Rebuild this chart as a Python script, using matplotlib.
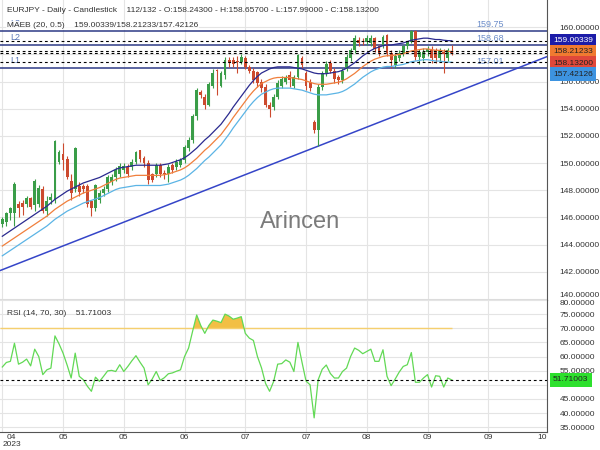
import numpy as np
import matplotlib
matplotlib.use('Agg')
import matplotlib.pyplot as plt

plt.rcParams['font.family'] = ['Liberation Sans', 'DejaVu Sans']

# Velas diarias EURJPY
opens = [145.5, 145.7, 146.3, 146.3, 147.0, 147.1, 147.0, 147.4, 146.9, 147.0,
         148.1, 146.5, 147.3, 147.3, 150.1, 150.7, 150.3, 148.7, 148.1, 148.3,
         148.3, 148.3, 147.2, 146.7, 147.3, 147.8, 148.1, 148.6, 149.0, 149.2,
         149.5, 149.7, 149.7, 150.1, 150.95, 150.4, 150.0, 149.2, 149.2, 149.85,
         149.25, 149.2, 149.85, 149.7, 149.85, 150.2, 151.1, 151.7, 153.5, 155.2,
         154.9, 154.3, 155.7, 156.85, 155.7, 156.5, 157.6, 157.6, 157.5, 157.45,
         157.7, 157.1, 156.8, 156.7, 156.0, 155.6, 154.3, 154.1, 154.9, 155.7,
         156.0, 156.5, 155.7, 156.35, 157.7, 156.6, 156.0, 153.04, 152.4, 155.6,
         156.6, 157.4, 156.8, 156.35, 156.1, 156.96, 157.7, 158.3, 159.05, 159.0,
         158.9, 158.8, 159.2, 158.6, 158.6, 159.4, 158.1, 157.2, 157.7, 158.1,
         158.6, 158.9, 159.7, 157.8, 157.7, 158.2, 158.4, 158.3, 157.7, 158.2,
         157.7, 158.243]
highs = [146.0, 146.4, 146.8, 148.6, 147.2, 147.3, 147.6, 147.5, 148.8, 148.4,
         148.3, 147.6, 147.8, 151.7, 151.0, 151.5, 150.5, 149.2, 151.2, 148.6,
         148.5, 148.5, 147.3, 148.5, 148.0, 148.3, 149.1, 149.2, 149.7, 150.0,
         150.0, 149.9, 150.3, 150.9, 151.0, 150.5, 150.2, 149.3, 150.0, 150.0,
         149.5, 149.9, 150.0, 150.3, 150.4, 151.3, 151.9, 153.6, 155.5, 155.4,
         155.1, 156.0, 156.9, 156.96, 156.8, 157.8, 157.8, 157.8, 157.9, 158.0,
         157.9, 157.2, 157.0, 156.8, 156.2, 155.8, 154.5, 155.1, 156.1, 156.4,
         156.5, 156.8, 156.5, 158.0, 157.9, 156.8, 156.2, 153.2, 155.8, 156.8,
         157.5, 157.6, 157.0, 156.5, 157.0, 158.0, 158.5, 159.4, 159.3, 159.2,
         159.4, 159.45, 159.3, 158.7, 159.4, 159.5, 158.3, 158.0, 158.3, 158.7,
         159.0, 159.8, 159.8, 158.4, 158.5, 158.6, 158.6, 158.5, 158.5, 158.4,
         158.5, 158.657]
lows = [145.3, 145.4, 145.8, 145.4, 146.0, 146.2, 146.8, 146.6, 146.5, 146.8,
        146.3, 146.1, 147.0, 147.1, 149.9, 149.5, 148.8, 147.3, 147.9, 147.6,
        147.8, 146.8, 146.1, 146.5, 147.1, 147.6, 147.9, 148.4, 148.7, 149.0,
        149.3, 149.0, 149.5, 149.9, 150.1, 149.7, 148.5, 148.6, 149.0, 149.0,
        148.8, 148.6, 149.3, 149.5, 149.7, 150.0, 150.9, 151.5, 153.2, 154.8,
        154.0, 154.2, 155.5, 155.0, 155.6, 156.2, 157.1, 157.1, 156.6, 157.3,
        156.9, 156.6, 155.9, 155.6, 155.2, 154.1, 153.4, 153.9, 154.7, 155.5,
        155.8, 155.6, 155.5, 156.2, 157.0, 155.4, 155.3, 152.2, 151.25, 155.4,
        156.4, 156.6, 155.9, 155.8, 155.9, 156.8, 157.5, 158.1, 158.6, 158.7,
        158.7, 158.6, 158.2, 157.9, 158.5, 157.9, 157.0, 157.0, 157.5, 157.9,
        158.4, 158.8, 157.6, 157.3, 157.5, 157.9, 157.4, 157.4, 157.5, 156.6,
        157.5, 157.99]
closes = [145.9, 146.3, 146.7, 148.45, 146.7, 146.8, 147.4, 146.8, 148.7, 148.2,
          146.5, 147.2, 147.5, 151.6, 150.8, 150.2, 149.0, 147.8, 151.1, 147.9,
          148.1, 147.0, 146.7, 148.4, 147.8, 148.1, 149.0, 149.0, 149.5, 149.8,
          149.8, 149.2, 150.1, 150.8, 150.3, 150.0, 148.75, 148.75, 149.85, 149.2,
          149.2, 149.7, 149.5, 150.1, 150.2, 151.15, 151.7, 153.45, 155.4, 155.0,
          154.3, 155.8, 156.6, 156.75, 156.6, 157.6, 157.35, 157.3, 157.45, 157.8,
          157.1, 156.8, 156.1, 155.9, 155.5, 154.3, 154.0, 154.9, 155.9, 156.2,
          156.35, 156.1, 156.35, 157.95, 157.2, 155.7, 155.5, 152.4, 155.6, 156.6,
          157.3, 156.8, 156.2, 156.1, 156.8, 157.8, 158.3, 159.2, 158.8, 158.95,
          159.2, 159.2, 158.4, 158.1, 159.3, 158.1, 157.6, 157.9, 158.1, 158.6,
          158.9, 159.7, 157.8, 158.2, 158.2, 158.4, 157.7, 157.7, 158.3, 158.0,
          158.3, 158.132]

# Media móvil (20); la envolvente es +/- 0.5 %
maeb_mid = [143.9, 144.1, 144.3, 144.5, 144.7, 144.9, 145.1, 145.3, 145.5, 145.7,
            145.9, 146.1, 146.35, 146.6, 146.8, 147.0, 147.2, 147.35, 147.5, 147.65,
            147.8, 147.9, 148.0, 148.1, 148.2, 148.35, 148.5, 148.65, 148.8, 148.9,
            148.95, 149.0, 149.05, 149.1, 149.1, 149.1, 149.1, 149.1, 149.1, 149.1,
            149.15, 149.2, 149.3, 149.4, 149.5, 149.65, 149.85, 150.1, 150.35, 150.65,
            150.95, 151.2, 151.5, 151.8, 152.1, 152.5, 152.9, 153.35, 153.75, 154.15,
            154.55, 154.95, 155.3, 155.6, 155.85, 156.0, 156.15, 156.25, 156.3, 156.3,
            156.3, 156.3, 156.25, 156.2, 156.15, 156.05, 155.95, 155.85, 155.8, 155.8,
            155.8, 155.85, 155.9, 155.95, 156.05, 156.2, 156.4, 156.6, 156.85, 157.1,
            157.3, 157.5, 157.65, 157.75, 157.85, 157.9, 157.9, 157.95, 158.0, 158.05,
            158.15, 158.25, 158.3, 158.35, 158.4, 158.4, 158.35, 158.3, 158.3, 158.25,
            158.22, 158.21233]
maeb_pct = 0.5
maeb_last = [159.00339, 158.21233, 157.42126]

rsi = [56.3, 57.9, 58.3, 64.7, 57.3, 58.0, 59.1, 56.7, 62.6, 60.0,
       53.6, 55.3, 55.9, 67.3, 64.5, 61.2, 57.0, 52.4, 61.2, 53.0,
       51.8, 49.5, 47.7, 52.7, 51.2, 53.0, 54.9, 55.1, 54.7, 57.1,
       54.7, 56.5, 58.5, 60.3, 58.0, 55.9, 50.0, 52.0, 54.7, 51.6,
       52.5, 53.9, 54.2, 54.8, 55.3, 60.0, 63.0, 69.0, 74.7, 71.0,
       68.2, 71.0, 72.9, 72.5, 72.0, 75.0, 74.3, 73.2, 73.6, 74.1,
       68.2, 66.5, 65.7, 60.0, 56.0, 50.5, 47.7, 51.2, 57.3, 57.5,
       58.8, 58.0, 54.7, 65.0, 58.0, 51.3, 50.0, 38.3, 51.8, 55.5,
       57.0, 54.0, 52.4, 52.4, 54.7, 55.9, 60.0, 63.0, 62.2, 61.0,
       61.8, 62.6, 58.3, 58.3, 62.4, 53.0, 49.7, 52.0, 54.5, 56.5,
       57.1, 61.4, 50.9, 50.9, 52.4, 53.6, 49.2, 53.2, 53.0, 49.2,
       52.4, 51.71003]
rsi_upper = 70

# Niveles horizontales
levels = [159.75, 158.68, 157.01]
level_names = ['L3', 'L2', 'L1']

# Línea de tendencia (dos puntos de apoyo)
trend_x = [0, 78]
trend_y = [142.16, 151.25]

date_ticks = [0, 15, 30, 45, 60, 75, 90, 105, 120, 134.4]
date_labels = ['04\n2023', '05', '05', '06', '07', '07', '08', '09', '09', '10']

GREEN = '#3a9d48'
RED = '#cc4a2e'
GRID = '#e4e4e4'
TXT = '#333333'
FS = 6.0

x = np.arange(len(closes))
o = np.array(opens)
h = np.array(highs)
l = np.array(lows)
c = np.array(closes)
mid = np.array(maeb_mid)
upper = mid * (1 + maeb_pct / 100)
lower = mid * (1 - maeb_pct / 100)
rsi = np.array(rsi)

fig = plt.figure(figsize=(6, 4.5), dpi=100)
ax = fig.add_axes([0, 150 / 450, 547 / 600, 300 / 450])
ax_rsi = fig.add_axes([0, 18 / 450, 547 / 600, 132 / 450], sharex=ax)

# ---- Panel de precios ----
ax.set_xlim(-0.57, 134.5)
ax.set_ylim(139.93, 162.0)
price_ticks = np.arange(140, 161, 2)
ax.set_yticks(price_ticks)
ax.grid(True, color=GRID, lw=0.8)
ax.set_axisbelow(True)

colors = [GREEN if cc >= oo else RED for oo, cc in zip(o, c)]
ax.vlines(x, l, h, colors=colors, lw=0.8, zorder=3)
body_h = np.maximum(np.abs(c - o), 0.06)
ax.bar(x, body_h, bottom=np.minimum(o, c), width=0.7, color=colors, zorder=4)

ax.plot(x, upper, color='#2a2a8f', lw=0.9, zorder=5)
ax.plot(x, mid, color='#f07f3c', lw=0.9, zorder=5)
ax.plot(x, lower, color='#5bb4e5', lw=0.9, zorder=5)

for lv, name in zip(levels, level_names):
    ax.axhline(lv, color='#2d3a86', lw=1.1, zorder=2)
    ax.text(2, lv + 0.22, name, color='#5a78b8', fontsize=6.5, va='bottom', zorder=6)
    ax.text(120.5, lv + 0.15, f'{lv:.2f}', color='#6b8cc8', fontsize=6.5,
            ha='center', va='bottom')

for v in maeb_last + [closes[-1]]:
    ax.axhline(v, color='black', lw=0.8, ls=(0, (2.5, 2.5)), zorder=6)

ax.axline((trend_x[0], trend_y[0]), (trend_x[1], trend_y[1]),
          color='#3545c8', lw=1.1, zorder=2)

ax.yaxis.tick_right()
ax.tick_params(axis='y', length=0, labelsize=FS, labelcolor=TXT, pad=9)
ax.set_yticklabels([f'{v:.5f}' if v != 158 else '' for v in price_ticks])
ax.get_yticklabels()[0].set_va('bottom')
ax.tick_params(axis='x', length=0, labelbottom=False)
for s in ['top', 'left']:
    ax.spines[s].set_visible(False)
ax.spines['right'].set_color('#555555')
ax.spines['bottom'].set_color('#555555')

ax.text(0.013, 0.965, 'EURJPY - Daily - Candlestick    112/132 - O:158.24300 - '
        'H:158.65700 - L:157.99000 - C:158.13200',
        transform=ax.transAxes, fontsize=FS, color=TXT, va='center')
ax.text(0.013, 0.915, 'MAEB (20, 0.5)    '
        + '/'.join(f'{v:.5f}' for v in maeb_last),
        transform=ax.transAxes, fontsize=FS, color=TXT, va='center', zorder=8,
        bbox=dict(facecolor='white', edgecolor='none', pad=0.5, alpha=0.75))

# Etiquetas de valor a la derecha (apiladas para que no se solapen)
box_vals = [maeb_last[0], maeb_last[1], closes[-1], maeb_last[2]]
box_cols = ['#1c1ca8', '#f07a30', '#e0483a', '#3d93e0']
box_txt = ['white', '#222222', '#222222', '#222222']
prev = None
for v, fc, tc in zip(box_vals, box_cols, box_txt):
    yv = v if prev is None else min(v, prev - 0.82)
    prev = yv
    ax.text(1.011, yv, f'{v:.5f}', transform=ax.get_yaxis_transform(),
            fontsize=FS, color=tc, va='center', ha='left', clip_on=False, zorder=9,
            bbox=dict(boxstyle='square,pad=0.4', facecolor=fc, edgecolor='none'))

# ---- Panel RSI ----
ax_rsi.set_ylim(33.3, 80)
rsi_ticks = np.arange(35, 81, 5)
ax_rsi.set_yticks(rsi_ticks)
ax_rsi.grid(True, color=GRID, lw=0.8)
ax_rsi.set_axisbelow(True)
ax_rsi.hlines(rsi_upper, -0.57, x[-1], color='#f5cf6e', lw=1.0)
ax_rsi.fill_between(x, rsi, rsi_upper, where=rsi > rsi_upper, interpolate=True,
                    color='#f2bf45', lw=0)
ax_rsi.plot(x, rsi, color='#62d955', lw=0.9)
ax_rsi.axhline(rsi[-1], color='black', lw=0.8, ls=(0, (2.5, 2.5)))

ax_rsi.yaxis.tick_right()
ax_rsi.tick_params(axis='y', length=0, labelsize=FS, labelcolor=TXT, pad=9)
ax_rsi.set_yticklabels([f'{v:.5f}' if v != 50 else '' for v in rsi_ticks])
ax_rsi.get_yticklabels()[-1].set_va('top')
ax_rsi.set_xticks(date_ticks)
ax_rsi.set_xticklabels(date_labels, linespacing=0.95)
ax_rsi.tick_params(axis='x', length=0, labelsize=FS, labelcolor=TXT, pad=1.5)
xl = ax_rsi.get_xticklabels()
xl[0].set_ha('left')
xl[0].set_multialignment('center')
xl[-1].set_ha('right')
ax_rsi.spines['top'].set_visible(False)
ax_rsi.spines['left'].set_visible(False)
ax_rsi.spines['right'].set_color('#555555')
ax_rsi.spines['bottom'].set_color('#555555')

ax_rsi.text(0.013, 0.9, f'RSI (14, 70, 30)    {rsi[-1]:.5f}',
            transform=ax_rsi.transAxes, fontsize=FS, color=TXT, va='center')
ax_rsi.text(1.011, rsi[-1], f'{rsi[-1]:.5f}', transform=ax_rsi.get_yaxis_transform(),
            fontsize=FS, color='#222222', va='center', ha='left', clip_on=False,
            bbox=dict(boxstyle='square,pad=0.4', facecolor='#2de02d', edgecolor='none'))

# Marca de agua
fig.text(0.5, 1 - 222 / 450, 'Arincen', fontsize=17, color='#6d6d6d',
         ha='center', va='center', alpha=0.9, zorder=10)

fig.savefig('out.png', dpi=100)
